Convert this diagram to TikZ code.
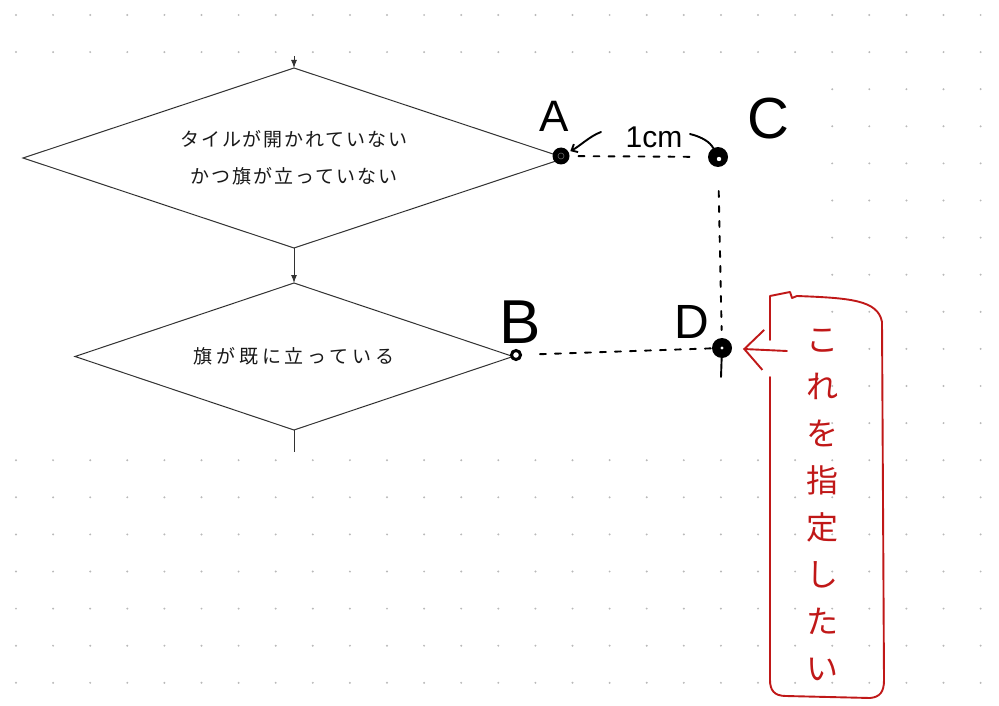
\documentclass[tikz,border=0pt]{standalone}
\usepackage{fontspec}
\setmainfont{Liberation Sans}
\newfontfamily\jpfont{Noto Sans CJK JP}
\usetikzlibrary{shapes.geometric, arrows.meta, positioning}
\definecolor{griddot}{RGB}{185,185,185}
\definecolor{flowgray}{RGB}{50,50,50}
\definecolor{penred}{RGB}{192,24,24}
\tikzstyle{arrow} = [draw=flowgray, -{Latex[length=8pt,width=6pt]}, line width=1pt]
\tikzstyle{link} = [draw=flowgray, line width=1pt]
\tikzstyle{decision} = [diamond, draw=flowgray, line width=1pt, shape aspect=3, inner sep=0pt, outer sep=0pt, align=center, text=black!90]
\tikzstyle{pen} = [line width=1.9pt, line cap=round, line join=round]
\tikzstyle{pendash} = [pen, dash pattern=on 6pt off 9pt]
\tikzstyle{handtext} = [inner sep=0pt, outer sep=0pt]
\tikzstyle{blob} = [circle, fill=black, inner sep=0pt, outer sep=0pt]

\begin{document}
\begin{tikzpicture}[x=1pt, y=-1pt]
		\useasboundingbox (0,0) rectangle (999,706);
		\foreach \i in {0,...,26}
			\foreach \j in {0,...,18}
				\fill[griddot] (16+37.1*\i, 15+37.1*\j) circle (1.1pt);
		\fill[white] (0,62) rectangle (814,455);
		
		\node[decision, minimum width=542pt, minimum height=180pt, font={\jpfont\fontsize{19}{37}\selectfont\addfontfeatures{LetterSpace=10}}] (cond1) at (294,158) {タイルが開かれていない\\かつ旗が立っていない};
		\node[decision, minimum width=438pt, minimum height=147pt, font={\jpfont\fontsize{19}{22}\selectfont\addfontfeatures{LetterSpace=20}}] (cond2) at (294,356.5) {旗が既に立っている};
		\coordinate (entry) at (294,56);
		\coordinate (exit) at (294,452);
		\draw[arrow] (entry) -- (cond1.north);
		\draw[arrow] (cond1.south) -- (cond2.north);
		\draw[link] (cond2.south) -- (exit);
		
		\node[blob, minimum size=17pt] (ptA) at (561,156) {};
		\node[blob, minimum size=20pt] (ptC) at (718,157) {};
		\node[circle, draw=black, line width=3pt, fill=white, minimum size=9pt, inner sep=0pt] (ptB) at (516,355) {};
		\node[blob, minimum size=20pt] (ptD) at (722,348) {};
		\draw[black!60, line width=0.6pt] (ptA) circle (3pt);
		\fill[white] (ptC) ++(1,2) circle (2.2pt);
		\fill[white] (ptD) circle (1.6pt);
		
		\node[handtext, font=\fontsize{44}{44}\selectfont] (labA) at (554,116) {A};
		\node[handtext, font=\fontsize{62}{62}\selectfont] (labB) at (520,322) {B};
		\node[handtext, font=\fontsize{58}{58}\selectfont] (labC) at (768,119) {C};
		\node[handtext, font=\fontsize{48}{48}\selectfont] (labD) at (692,322) {D};
		\node[handtext, font=\fontsize{30}{30}\selectfont] (len) at (654,137) {1cm};
		\coordinate (lenL) at (601,132);
		\coordinate (lenR) at (690,134);
		\draw[pen, -{Straight Barb[length=5pt,width=9pt]}, shorten >=2pt] (lenL) .. controls (590,136) and (580,146) .. (ptA);
		\draw[pen] (lenR) .. controls (702,137) and (710,142) .. (ptC);
		
		\draw[pendash, shorten <=9pt, shorten >=12pt] (ptA) -- (ptC);
		\draw[pendash, shorten <=24pt, shorten >=8pt] (ptC) -- (ptD);
		\draw[pendash, shorten <=18pt] (ptB) -- (ptD);
		\coordinate (Dtail) at (721,377);
		\draw[pen] (ptD) -- (Dtail);
		
		\draw[pen, penred] (770,340) -- (770,296) -- (790,292) -- (792,298) -- (797,296) .. controls (850,298) and (878,300) .. (882,322) -- (884,680) .. controls (884,692) and (880,697) .. (870,698) -- (786,696) .. controls (774,696) and (770,690) .. (770,680) -- (770,377);
		\coordinate (wishtail) at (787,351);
		\draw[pen, penred, -{Straight Barb[length=19pt,width=40pt]}, shorten >=11pt] (wishtail) -- (ptD);
		\node[handtext, text=penred, align=center, font={\jpfont\fontsize{32}{47}\selectfont}] (wish) at (822,505) {こ\\れ\\を\\指\\定\\し\\た\\い};
	\end{tikzpicture}
\end{document}
